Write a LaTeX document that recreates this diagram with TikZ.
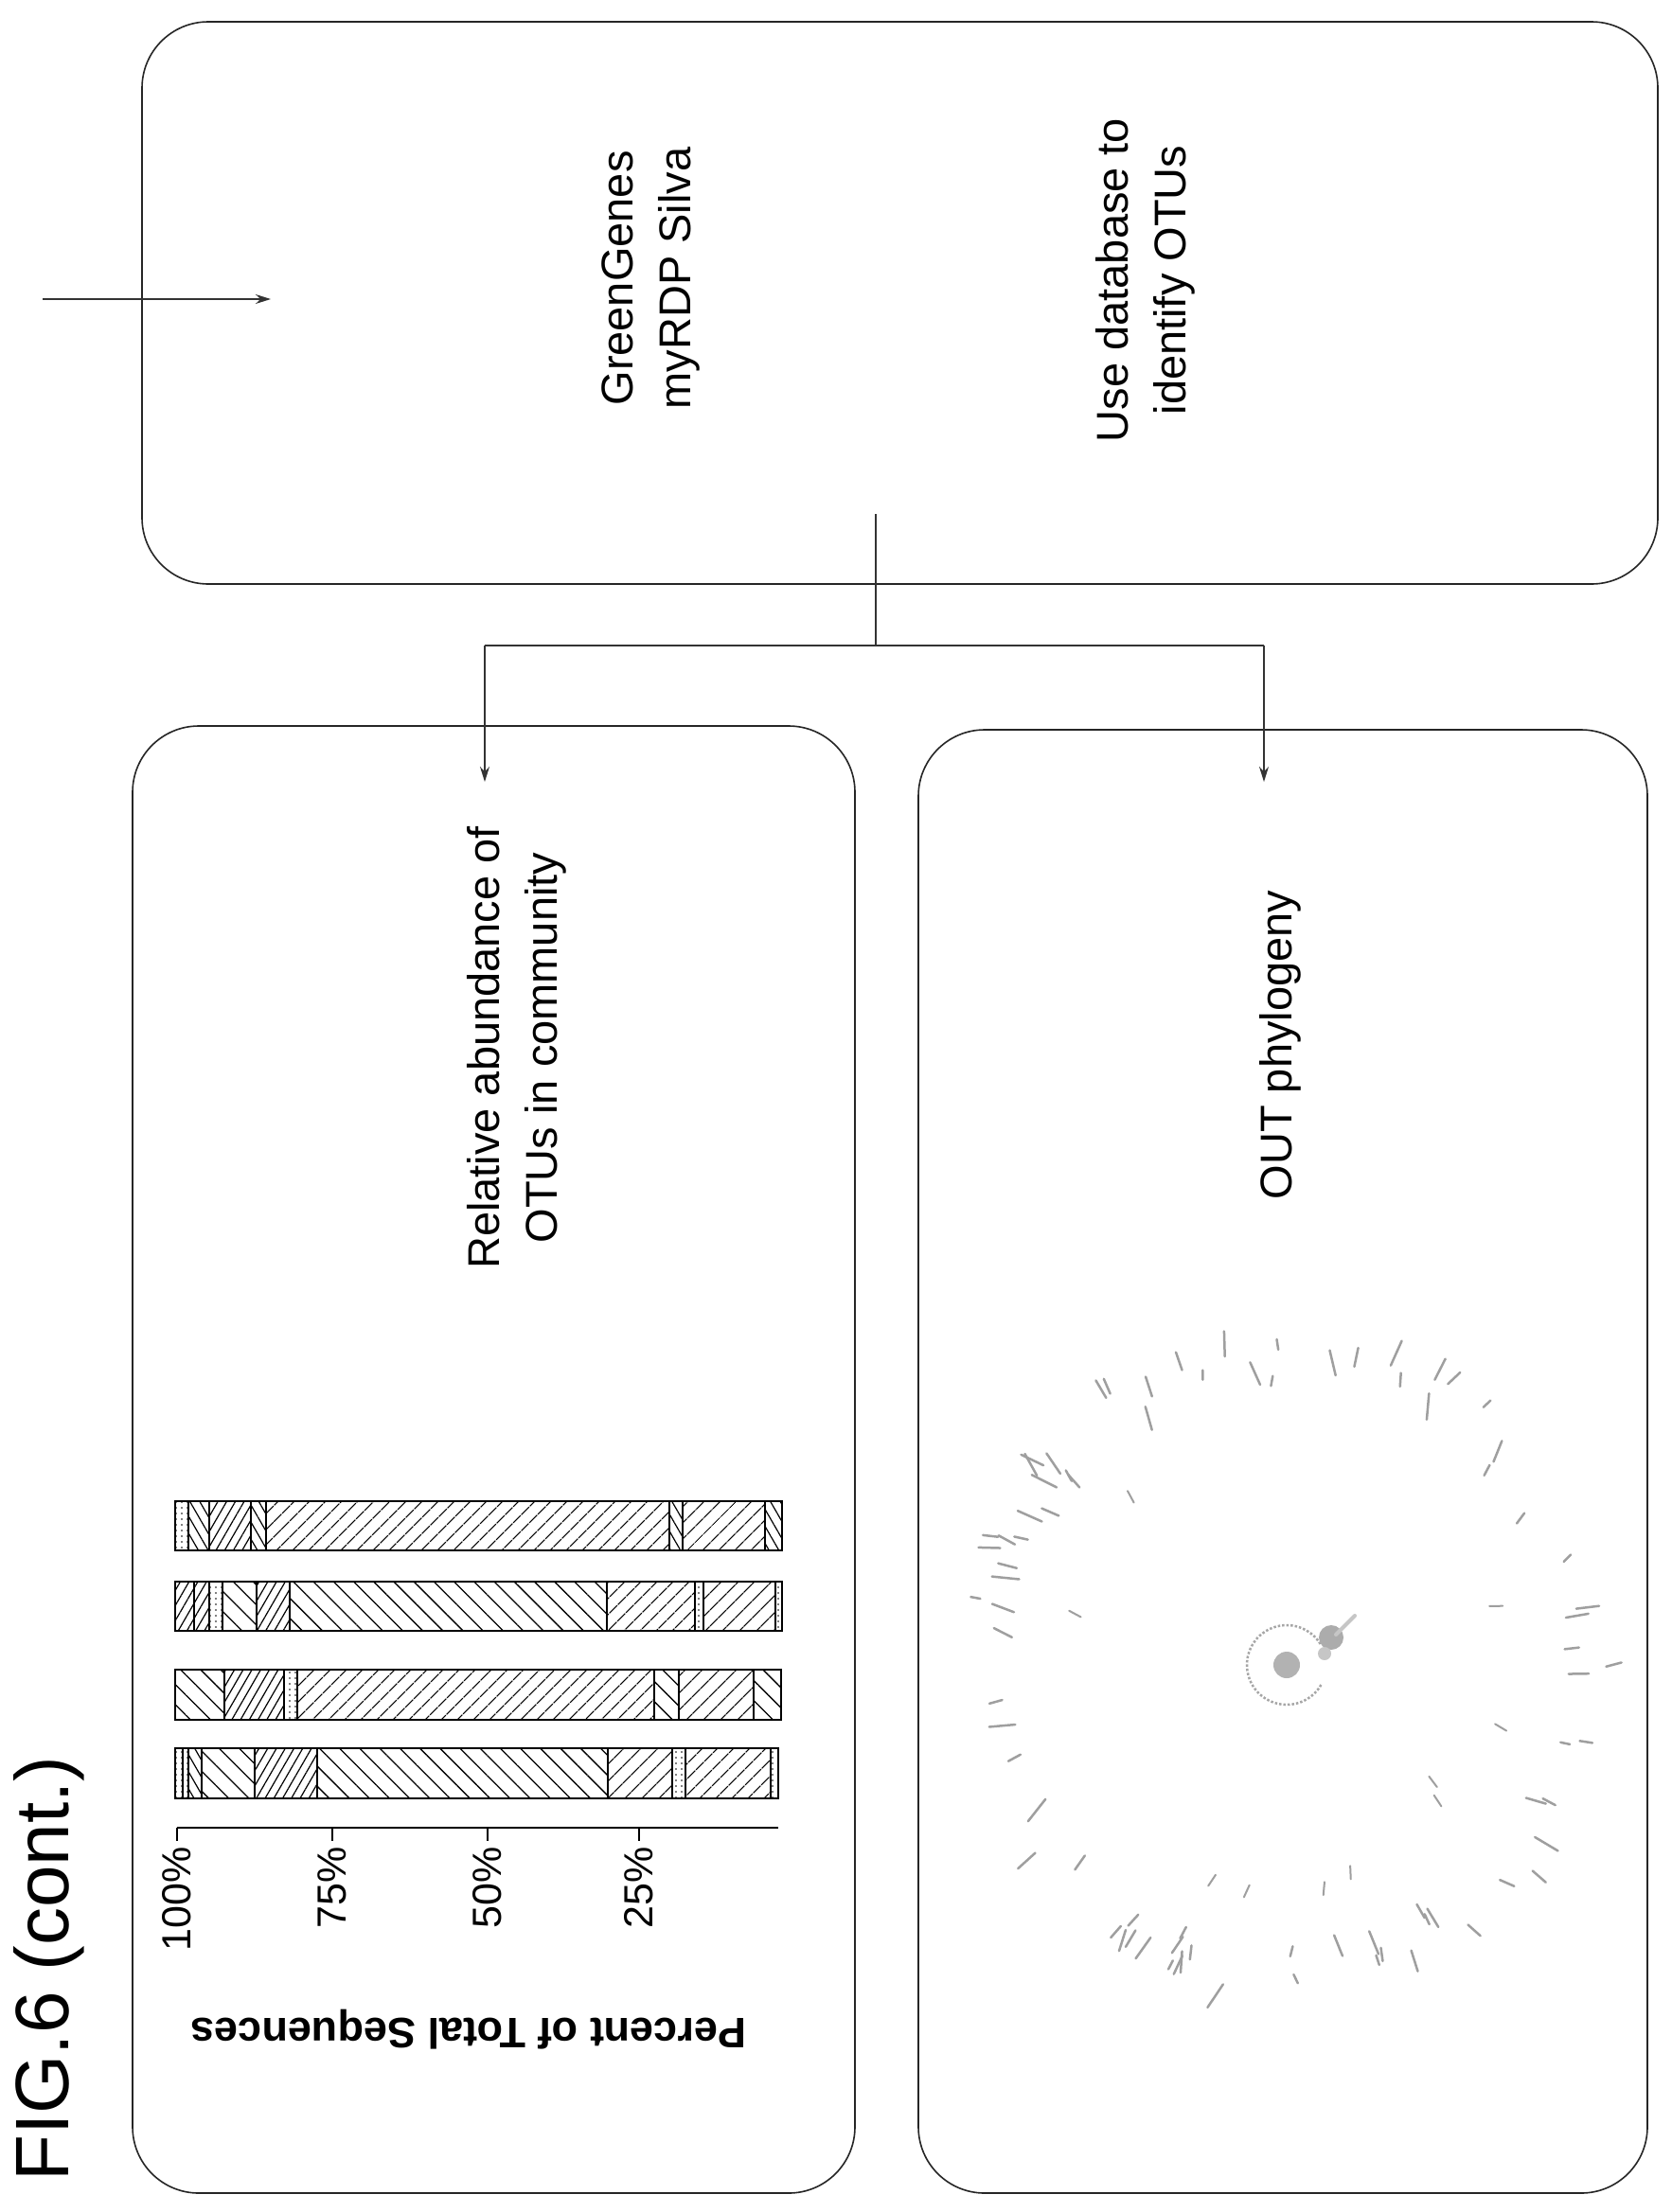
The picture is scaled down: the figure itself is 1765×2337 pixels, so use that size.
\documentclass[tikz,border=0pt]{standalone}
\usepackage{fontspec}
\setmainfont{Liberation Sans}
\usetikzlibrary{arrows.meta,patterns.meta}
\begin{document}
\begin{tikzpicture}[x=1pt,y=-1pt,
  panel/.style={draw=black!85,line width=1.6pt,rounded corners=70pt},
  conn/.style={draw=black!80,line width=1.5pt},
  tipped/.style={conn,-{Stealth[length=16pt,width=10pt]}},
  lbl/.style={font=\fontsize{47}{61}\selectfont,rotate=90,align=center,inner sep=0pt},
  tick/.style={font=\fontsize{43}{50}\selectfont,rotate=90,anchor=east,inner sep=0pt},
  seg/.style={draw=black,line width=2pt},
  phylo/.style={draw=gray!75,line width=2.5pt,line cap=round}]
\useasboundingbox (0,0) rectangle (1765,2337);
\fill[white] (0,0) rectangle (1765,2337);
% panels
\draw[panel] (150,23) rectangle (1751,617);
\draw[panel] (140,767) rectangle (903,2317);
\draw[panel] (970,771) rectangle (1740,2317);
% incoming arrow
\coordinate (in0) at (45,316);
\coordinate (in1) at (286,316);
\draw[tipped] (in0) -- (in1);
% texts
\node[lbl] (db) at (687,294) {GreenGenes\\myRDP Silva};
\node[lbl] (use) at (1210,296) {Use database to\\identify OTUs};
\node[lbl] (rel) at (546,1107) {Relative abundance of\\OTUs in community};
\node[lbl] (phy) at (1352,1104) {OUT phylogeny};
\node[font=\fontsize{80}{90}\selectfont,rotate=90,inner sep=0pt] (fig) at (52,2080) {FIG.6 (cont.)};
% connectors
\coordinate (c0) at (925,543);
\coordinate (c1) at (925,682);
\coordinate (cl) at (512,682);
\coordinate (cr) at (1335,682);
\coordinate (al) at (512,826);
\coordinate (ar) at (1335,826);
\draw[conn] (c0) -- (c1);
\draw[conn] (cl) -- (cr);
\draw[tipped] (cl) -- (al);
\draw[tipped] (cr) -- (ar);
% bar chart
\tikzset{pA/.style={pattern={Lines[angle=45,distance=13pt,line width=1.3pt]}},
         pB/.style={pattern={Lines[angle=-45,distance=15pt,line width=1.3pt]}},
         pC/.style={pattern={Lines[angle=60,distance=8pt,line width=1.2pt]}},
         pD/.style={pattern={Lines[angle=-60,distance=9pt,line width=1.2pt]}},
         pE/.style={pattern={Dots[distance=6pt,radius=0.9pt]}}}
\foreach \xa/\xb/\p in {185/199/pE,199/221/pD,221/265/pC,265/281/pD,281/707/pA,707/721/pD,721/808/pA,808/826/pD}
  \draw[seg,\p] (\xa,1586) rectangle (\xb,1638);
\foreach \xa/\xb/\p in {185/205/pC,205/221/pC,221/235/pE,235/271/pB,271/306/pC,306/641/pB,641/734/pA,734/743/pE,743/819/pA,819/826/pE}
  \draw[seg,\p] (\xa,1671) rectangle (\xb,1723);
\foreach \xa/\xb/\p in {185/237/pB,237/300/pC,300/314/pE,314/691/pA,691/717/pB,717/796/pA,796/825/pB}
  \draw[seg,\p] (\xa,1764) rectangle (\xb,1817);
\foreach \xa/\xb/\p in {185/193/pE,193/199/pE,199/213/pD,213/269/pB,269/335/pC,335/642/pB,642/710/pA,710/724/pE,724/814/pA,814/822/pE}
  \draw[seg,\p] (\xa,1847) rectangle (\xb,1900);
% axis
\coordinate (ax0) at (187,1931);
\coordinate (ax1) at (822,1931);
\draw[line width=2pt] (ax0) -- (ax1);
\foreach \x/\t in {187/100\%,351/75\%,515/50\%,675/25\%}{
  \draw[line width=2pt] (\x,1931) -- (\x,1945);
  \node[tick] at (\x,1951) {\t};}
\node[font=\bfseries\fontsize{45}{50}\selectfont,rotate=180,inner sep=0pt] (ptitle) at (495,2144) {Percent of Total Sequences};
% phylogeny
\pgfmathsetseed{11}
\begin{scope}[shift={(1359,1759)}]
\foreach \i in {1,...,80}{
  \pgfmathsetmacro\ang{rnd*360}
  \pgfmathsetmacro\rad{285+rnd*60}
  \pgfmathsetmacro\len{10+rnd*20}
  \pgfmathsetmacro\tw{rnd*50-25}
  \draw[phylo] (\ang:\rad) -- ++(\ang+\tw:\len);}
\foreach \i in {1,...,10}{
  \pgfmathsetmacro\ang{rnd*360}
  \pgfmathsetmacro\rad{190+rnd*60}
  \draw[phylo,line width=2pt] (\ang:\rad) -- ++(\ang+15:14);}
\draw[gray!70,line width=2.5pt,dotted] (30:42) arc (30:330:42);
\fill[gray!60] (0,0) circle (14);
\fill[gray!65] (47,-29) circle (13);
\fill[gray!45] (40,-12) circle (7);
\draw[gray!45,line width=4pt,line cap=round] (52,-32) -- (72,-52);
\end{scope}
\end{tikzpicture}
\end{document}
